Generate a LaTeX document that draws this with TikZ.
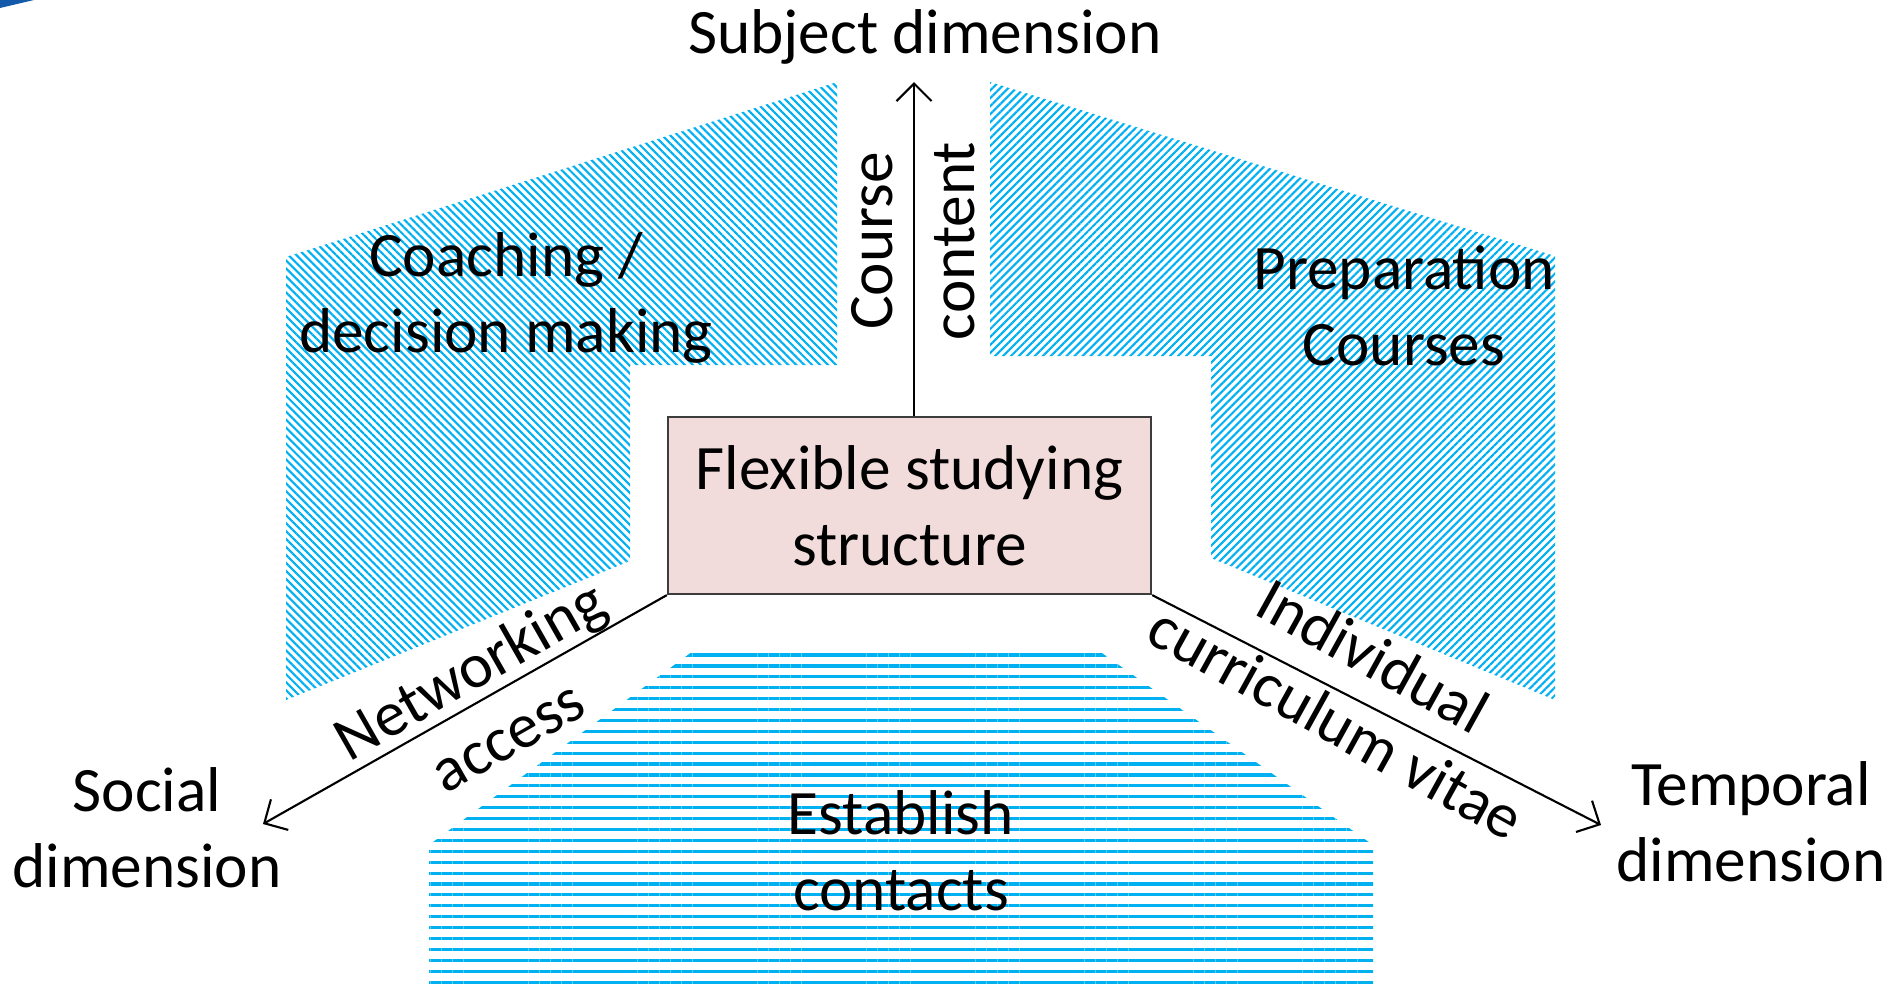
\documentclass[tikz,border=0pt]{standalone}
\usepackage{fontspec}
\setmainfont{Carlito}
\usetikzlibrary{arrows.meta,patterns.meta}
\definecolor{hatch}{RGB}{0,176,240}
\definecolor{boxfill}{RGB}{242,220,219}
\definecolor{boxline}{RGB}{60,60,60}
\definecolor{swoosh}{RGB}{20,90,170}

\begin{document}
\begin{tikzpicture}[x=0.01cm,y=-0.01cm,
		every node/.style={font=\fontsize{18}{21.6}\selectfont,align=center,inner sep=0pt},
		axis/.style={line width=0.6pt,-{Straight Barb[length=5pt,width=10pt]}},
		hatchleft/.style={pattern={Lines[angle=-45,distance=1.6pt,line width=0.6pt]},pattern color=hatch},
		hatchright/.style={pattern={Lines[angle=45,distance=1.6pt,line width=0.6pt]},pattern color=hatch},
		hatchflat/.style={pattern={Lines[angle=0,distance=3.1pt,line width=0.9pt]},pattern color=hatch}]
		\useasboundingbox (0,0) rectangle (1893,993);

		\fill[swoosh] (0,0) -- (34,0) -- (0,8) -- cycle;

		\fill[hatchleft] (286,257) -- (837,82) -- (837,365) -- (630,365) -- (630,561) -- (286,700) -- cycle;
		\fill[hatchright] (990,82) -- (1555,256) -- (1555,700) -- (1211,558) -- (1211,356) -- (990,356) -- cycle;
		\fill[hatchflat] (700,646) -- (1092,646) -- (1373,845) -- (1373,990) -- (429,990) -- (429,845) -- cycle;

		\node(flex) [draw=boxline,line width=0.6pt,fill=boxfill,minimum width=4.83cm,minimum height=1.77cm] at (909.5,505.5) {Flexible studying\\structure};

		\coordinate(subj) at (914,82);
		\coordinate(soc) at (263,824);
		\coordinate(temp) at (1601,825);

		\node(subjtext) at (925,37) {Subject dimension};
		\node(soctext) at (147,828) {Social\\dimension};
		\node(temptext) at (1751,822) {Temporal\\dimension};

		\node(coach) at (506,298) {Coaching /\\decision making};
		\node(prep) at (1404,306) {Preparation\\Courses};
		\node(contacts) at (901,851) {Establish\\contacts};

		\draw[axis] (flex.north -| subj) -- (subj);
		\draw[axis] (flex.south west) -- (soc);
		\draw[axis] (flex.south east) -- (temp);

		\node(course) [rotate=90] at (913,241) {Course\\[1.7pt]content};
		\node(network) [rotate=29.7] at (488,702) {Networking\\access};
		\node(cv) [rotate=-29] at (1355,689) {Individual\\curriculum vitae};
	\end{tikzpicture}
\end{document}
